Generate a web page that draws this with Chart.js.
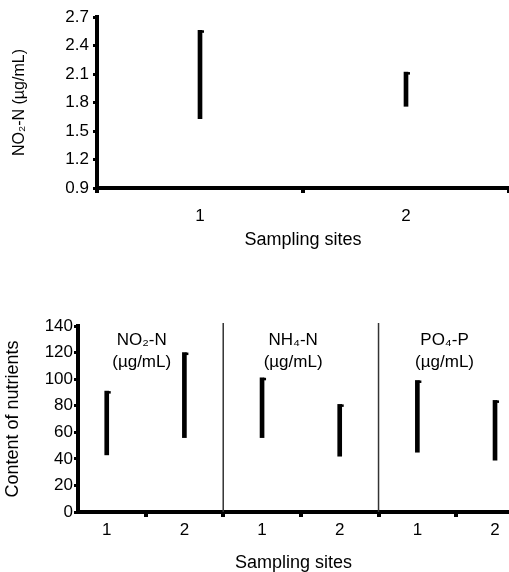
<!DOCTYPE html>
<html>
<head>
<meta charset="utf-8">
<script src="https://cdn.jsdelivr.net/npm/chart.js@4"></script>
<style>
body { margin: 0; background: #fff; width: 509px; height: 572px; overflow: hidden; position: relative; }
canvas { position: absolute; left: 0; }
#topChart { top: 0; }
#bottomChart { top: 305px; }
</style>
</head>
<body>
<canvas id="topChart" width="509" height="258"></canvas>
<canvas id="bottomChart" width="509" height="267"></canvas>
<script>
// top panel: NO2-N range per site
const topSites = ['1', '2'];
const topLow = [1.63, 1.76];
const topHigh = [2.56, 2.12];
const topTicks = [0.9, 1.2, 1.5, 1.8, 2.1, 2.4, 2.7];

// bottom panel: three nutrients, two sites each
const nutrients = ['NO₂-N', 'NH₄-N', 'PO₄-P'];
const siteLabels = ['1', '2', '1', '2', '1', '2'];
const sitePos = [1, 2, 3, 4, 5, 6];
const nutLow = [43, 56, 56, 42, 45, 39];
const nutHigh = [91, 120, 101, 81, 99, 84];
const dividers = [2.5, 4.5];
const markers = [1.5, 2.5, 3.5, 4.5, 5.5];

const FONT = '"Liberation Sans", Arial, Helvetica, sans-serif';
Chart.defaults.font.family = FONT;
Chart.defaults.color = '#000';

// little hook on top of each range bar
const capPlugin = {
    id: 'caps',
    afterDatasetsDraw(chart) {
        const ctx = chart.ctx;
        ctx.save();
        ctx.fillStyle = '#000';
        chart.getDatasetMeta(0).data.forEach(bar => {
            const top = Math.min(bar.y, bar.base);
            ctx.fillRect(bar.x + bar.width / 2 - 1, top, 3, 2.5);
        });
        ctx.restore();
    }
};

const groupPlugin = {
    id: 'groups',
    afterDatasetsDraw(chart) {
        const {ctx, chartArea, scales: {x}} = chart;
        ctx.save();
        ctx.strokeStyle = '#333';
        ctx.lineWidth = 1.5;
        dividers.forEach(v => {
            const px = x.getPixelForValue(v);
            ctx.beginPath();
            ctx.moveTo(px, chartArea.top - 3);
            ctx.lineTo(px, chartArea.bottom);
            ctx.stroke();
        });
        const anchors = [1.45, 3.4, 5.35];
        ctx.fillStyle = '#000';
        ctx.font = '17px ' + FONT;
        ctx.textAlign = 'center';
        ctx.textBaseline = 'middle';
        nutrients.forEach((n, i) => {
            const px = x.getPixelForValue(anchors[i]);
            ctx.fillText(n, px, chartArea.top + 14);
            ctx.fillText('(µg/mL)', px, chartArea.top + 36);
        });
        ctx.restore();
    }
};

new Chart(document.getElementById('topChart'), {
    type: 'bar',
    data: {
        labels: topSites,
        datasets: [{
            data: topSites.map((s, i) => [topLow[i], topHigh[i]]),
            backgroundColor: '#000',
            barThickness: 4,
            borderSkipped: false
        }]
    },
    options: {
        responsive: false, animation: false,
        layout: { padding: { top: 17, left: 0, right: 0, bottom: 0 } },
        plugins: { legend: { display: false }, tooltip: { enabled: false } },
        scales: {
            x: {
                grid: { drawOnChartArea: false, tickLength: 5, lineWidth: 4, color: '#000', offset: true },
                border: { color: '#000', width: 4 },
                ticks: { font: { size: 17 }, color: '#000', padding: 13, maxRotation: 0 },
                title: { display: true, text: 'Sampling sites', font: { size: 18 }, color: '#000', padding: { top: 0, bottom: 7 } },
                afterFit: s => { s.height = 70; }
            },
            y: {
                min: 0.9, max: 2.7,
                afterBuildTicks: s => { s.ticks = topTicks.map(v => ({ value: v })); },
                grid: { drawOnChartArea: false, tickLength: 4, lineWidth: 3, color: '#000' },
                border: { color: '#000', width: 4 },
                ticks: { font: { size: 17 }, color: '#000', padding: 4, callback: v => v.toFixed(1) },
                title: { display: true, text: 'NO₂-N (µg/mL)', font: { size: 16 }, color: '#000', padding: { top: 10, bottom: 0 } },
                afterFit: s => { s.width = 97; }
            }
        }
    },
    plugins: [capPlugin]
});

const xTicks = sitePos.concat(markers).sort((a, b) => a - b);

new Chart(document.getElementById('bottomChart'), {
    type: 'bar',
    data: {
        datasets: [{
            data: sitePos.map((p, i) => ({ x: p, y: [nutLow[i], nutHigh[i]] })),
            backgroundColor: '#000',
            barThickness: 4,
            borderSkipped: false
        }]
    },
    options: {
        responsive: false, animation: false,
        layout: { padding: { top: 21, left: 0, right: 0, bottom: 0 } },
        plugins: { legend: { display: false }, tooltip: { enabled: false } },
        scales: {
            x: {
                type: 'linear', min: 0.63, max: 6.18, offset: false,
                afterBuildTicks: s => { s.ticks = xTicks.map(v => ({ value: v })); },
                grid: {
                    drawOnChartArea: false, tickLength: 5, lineWidth: 4, offset: false,
                    color: c => (c.tick && sitePos.includes(c.tick.value)) ? 'rgba(0,0,0,0)' : '#000'
                },
                border: { color: '#000', width: 4 },
                ticks: {
                    font: { size: 17 }, color: '#000', padding: 3, maxRotation: 0, autoSkip: false,
                    callback: v => { const i = sitePos.indexOf(v); return i >= 0 ? siteLabels[i] : ''; }
                },
                title: { display: true, text: 'Sampling sites', font: { size: 18, lineHeight: 1 }, color: '#000', padding: { top: 0, bottom: 0 } },
                afterFit: s => { s.height = 60; }
            },
            y: {
                min: 0, max: 140,
                ticks: { stepSize: 20, font: { size: 17 }, color: '#000', padding: 1 },
                grid: { drawOnChartArea: false, tickLength: 4, lineWidth: 3, color: '#000' },
                border: { color: '#000', width: 4 },
                title: { display: true, text: 'Content of nutrients', font: { size: 18 }, color: '#000', padding: { top: 2, bottom: 0 } },
                afterFit: s => { s.width = 78; }
            }
        }
    },
    plugins: [capPlugin, groupPlugin]
});
</script>
</body>
</html>
